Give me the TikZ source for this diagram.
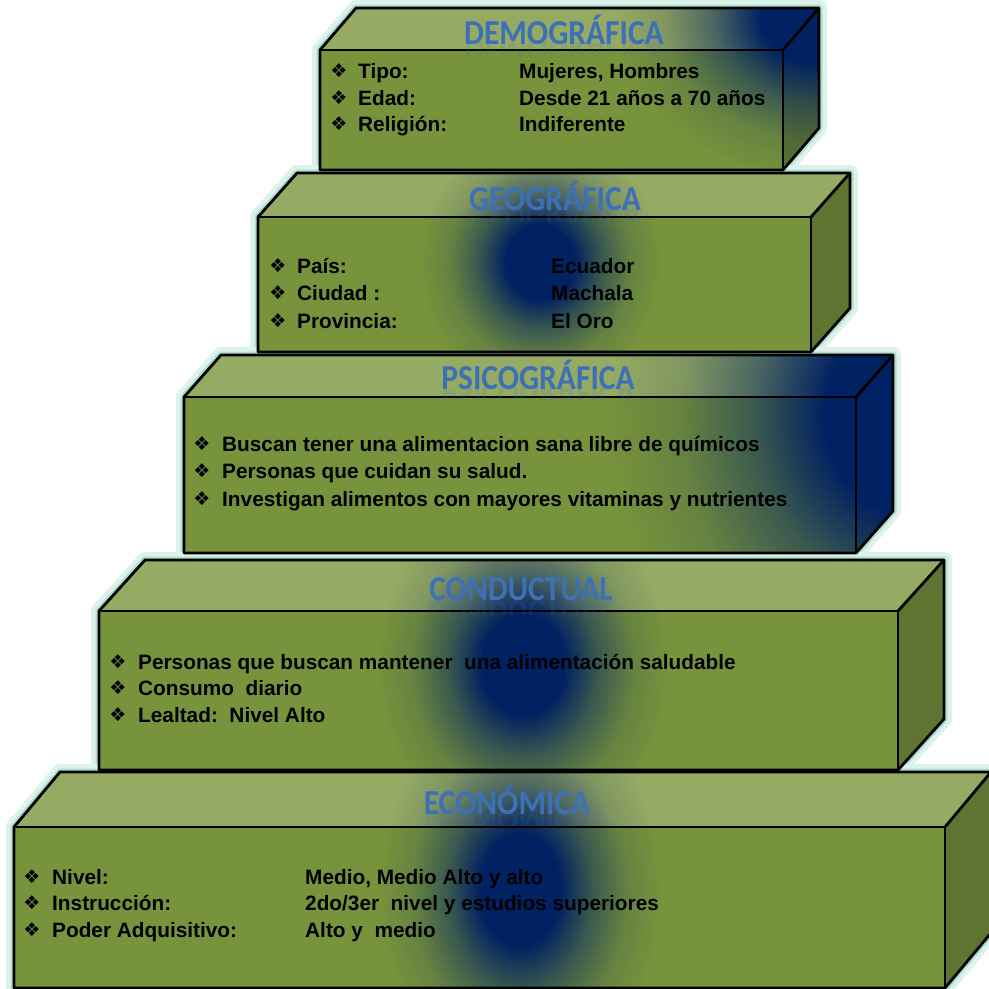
\documentclass[tikz,border=0pt]{standalone}
\usepackage{fontspec}
\setmainfont{Liberation Sans}
\newfontfamily\titlefont{Carlito}
\newfontfamily\dejavu{DejaVu Sans}
\usetikzlibrary{fadings}
\definecolor{frontc}{HTML}{77933C}
\definecolor{topc}{HTML}{95AA62}
\definecolor{sidec}{HTML}{5F7431}
\definecolor{navyc}{HTML}{002162}
\definecolor{haloa}{HTML}{DDF2EA}
\definecolor{halob}{HTML}{B2DFCD}
\definecolor{titlec}{HTML}{3E70B8}
\pgfdeclareradialshading{glowshade}{\pgfpointorigin}{color(0bp)=(white); color(7bp)=(white); color(13bp)=(black!50); color(19bp)=(black!86); color(25bp)=(black); color(50bp)=(black)}
\pgfdeclarefading{myglow}{\pgfuseshading{glowshade}}
\tikzset{
  edge/.style={draw=black, line width=2.8pt, line join=round},
  haloA/.style={draw=haloa, line width=16pt, line join=round},
  haloB/.style={draw=halob, line width=7pt, line join=round},
  txt/.style={anchor=base west, inner sep=0pt, font=\fontsize{20.8}{24}\selectfont\bfseries},
  bul/.style={anchor=center, inner sep=0pt, font=\dejavu\fontsize{19}{19}\selectfont},
  ttl/.style={anchor=center, inner sep=0pt, text=titlec, font=\titlefont\bfseries\fontsize{35}{35}\selectfont},
  ttlr/.style={anchor=center, inner sep=0pt, text=titlec, opacity=0.15, font=\titlefont\bfseries\fontsize{35}{35}\selectfont},
}
% outline path of a box: x1 x2 ytop ybot dx dy
\newcommand{\boxoutline}[6]{(#1,#3) -- (#1+#5,#3-#6) -- (#2+#5,#3-#6) -- (#2+#5,#4-#6) -- (#2,#4) -- (#1,#4) -- cycle}
\newcommand{\drawhalo}[6]{%
  \draw[haloA] \boxoutline{#1}{#2}{#3}{#4}{#5}{#6};
  \draw[haloB] \boxoutline{#1}{#2}{#3}{#4}{#5}{#6};}
\newcommand{\drawcube}[6]{%
  \fill[topc] (#1,#3) -- (#1+#5,#3-#6) -- (#2+#5,#3-#6) -- (#2,#3) -- cycle;
  \fill[frontc] (#1,#3) rectangle (#2,#4);
  \fill[sidec] (#2,#3) -- (#2+#5,#3-#6) -- (#2+#5,#4-#6) -- (#2,#4) -- cycle;}
\newcommand{\drawglow}[6]{%
  \begin{scope}
    \clip \boxoutline{#1}{#2}{#3}{#4}{#5}{#6};
    \fill[navyc, path fading=myglow] (\gcx,\gcy) ellipse [x radius=\grx, y radius=\gry];
  \end{scope}}
\newcommand{\drawedges}[6]{%
  \draw[edge] \boxoutline{#1}{#2}{#3}{#4}{#5}{#6};
  \draw[edge] (#1,#3) -- (#2,#3) -- (#2,#4);
  \draw[edge] (#2,#3) -- (#2+#5,#3-#6);}
\newcommand{\mytitle}[4]{% name x y text
  \node[ttl] (#1) at (#2,#3) {\scalebox{0.9}[1]{#4}};
  \begin{scope}
    \clip (#2-120,#3+12) rectangle (#2+120,#3+25);
    \node[ttlr] (#1-r) at (#2,#3+23) {\scalebox{0.9}[-1]{#4}};
  \end{scope}}
\newcommand{\rowtwo}[7]{% name bx lx vx base label value
  \node[bul] (#1-b) at (#2,#5-7.5) {❖};
  \node[txt] (#1-l) at (#3,#5) {#6};
  \node[txt] (#1-v) at (#4,#5) {#7};}
\newcommand{\rowone}[5]{% name bx lx base text
  \node[bul] (#1-b) at (#2,#4-7.5) {❖};
  \node[txt] (#1-l) at (#3,#4) {#5};}
\begin{document}
\begin{tikzpicture}[x=1pt,y=-1pt]
\useasboundingbox (0,0) rectangle (989,989);
\fill[white] (0,0) rectangle (989,989);
% halos
\drawhalo{320}{783}{50}{170}{36}{42}
\drawhalo{258}{811}{217}{352}{39}{44}
\drawhalo{184}{856}{397}{553}{37}{42}
\drawhalo{99}{898}{611}{770}{46}{51}
\drawhalo{14}{945}{827}{988}{46}{55}
% box 1 DEMOGRAFICA
\drawcube{320}{783}{50}{170}{36}{42}
\def\gcx{818}\def\gcy{18}\def\grx{200}\def\gry{160}
\drawglow{320}{783}{50}{170}{36}{42}
\drawedges{320}{783}{50}{170}{36}{42}
% box 2 GEOGRAFICA
\drawcube{258}{811}{217}{352}{39}{44}
\def\gcx{540}\def\gcy{262}\def\grx{120}\def\gry{130}
\drawglow{258}{811}{217}{352}{39}{44}
\drawedges{258}{811}{217}{352}{39}{44}
% box 3 PSICOGRAFICA
\drawcube{184}{856}{397}{553}{37}{42}
\def\gcx{910}\def\gcy{415}\def\grx{300}\def\gry{340}
\drawglow{184}{856}{397}{553}{37}{42}
\drawedges{184}{856}{397}{553}{37}{42}
% box 4 CONDUCTUAL
\drawcube{99}{898}{611}{770}{46}{51}
\def\gcx{523}\def\gcy{665}\def\grx{145}\def\gry{175}
\drawglow{99}{898}{611}{770}{46}{51}
\drawedges{99}{898}{611}{770}{46}{51}
% box 5 ECONOMICA
\drawcube{14}{945}{827}{988}{46}{55}
\def\gcx{520}\def\gcy{890}\def\grx{140}\def\gry{195}
\drawglow{14}{945}{827}{988}{46}{55}
\drawedges{14}{945}{827}{988}{46}{55}
% titles
\mytitle{t1}{564}{30}{DEMOGRÁFICA}
\mytitle{t2}{555}{196}{GEOGRÁFICA}
\mytitle{t3}{538}{375}{PSICOGRÁFICA}
\mytitle{t4}{521}{589}{CONDUCTUAL}
\mytitle{t5}{507}{800}{ECONÓMICA}
% box 1 text
\rowtwo{d1}{339}{358}{519}{78}{Tipo:}{Mujeres, Hombres}
\rowtwo{d2}{339}{358}{519}{105}{Edad:}{Desde 21 años a 70 años}
\rowtwo{d3}{339}{358}{519}{131}{Religión:}{Indiferente}
% box 2 text
\rowtwo{g1}{278}{297}{551}{273}{País:}{Ecuador}
\rowtwo{g2}{278}{297}{551}{300}{Ciudad :}{Machala}
\rowtwo{g3}{278}{297}{551}{328}{Provincia:}{El Oro}
% box 3 text
\rowone{p1}{202}{222}{451}{Buscan tener una alimentacion sana libre de químicos}
\rowone{p2}{202}{222}{478}{Personas que cuidan su salud.}
\rowone{p3}{202}{222}{506}{Investigan alimentos con mayores vitaminas y nutrientes{\mdseries\fontsize{11}{11}\selectfont .}}
% box 4 text
\rowone{c1}{118}{138}{669}{Personas que buscan mantener\ \ una alimentación saludable}
\rowone{c2}{118}{138}{695}{Consumo\ \ diario}
\rowone{c3}{118}{138}{722}{Lealtad:\ \ Nivel Alto}
% box 5 text
\rowtwo{e1}{32}{52}{305}{884}{Nivel:}{Medio, Medio Alto y alto}
\rowtwo{e2}{32}{52}{305}{910}{Instrucción:}{2do/3er\ \ nivel y estudios superiores}
\rowtwo{e3}{32}{52}{305}{937}{Poder Adquisitivo:}{Alto y\ \ medio}
\end{tikzpicture}
\end{document}
